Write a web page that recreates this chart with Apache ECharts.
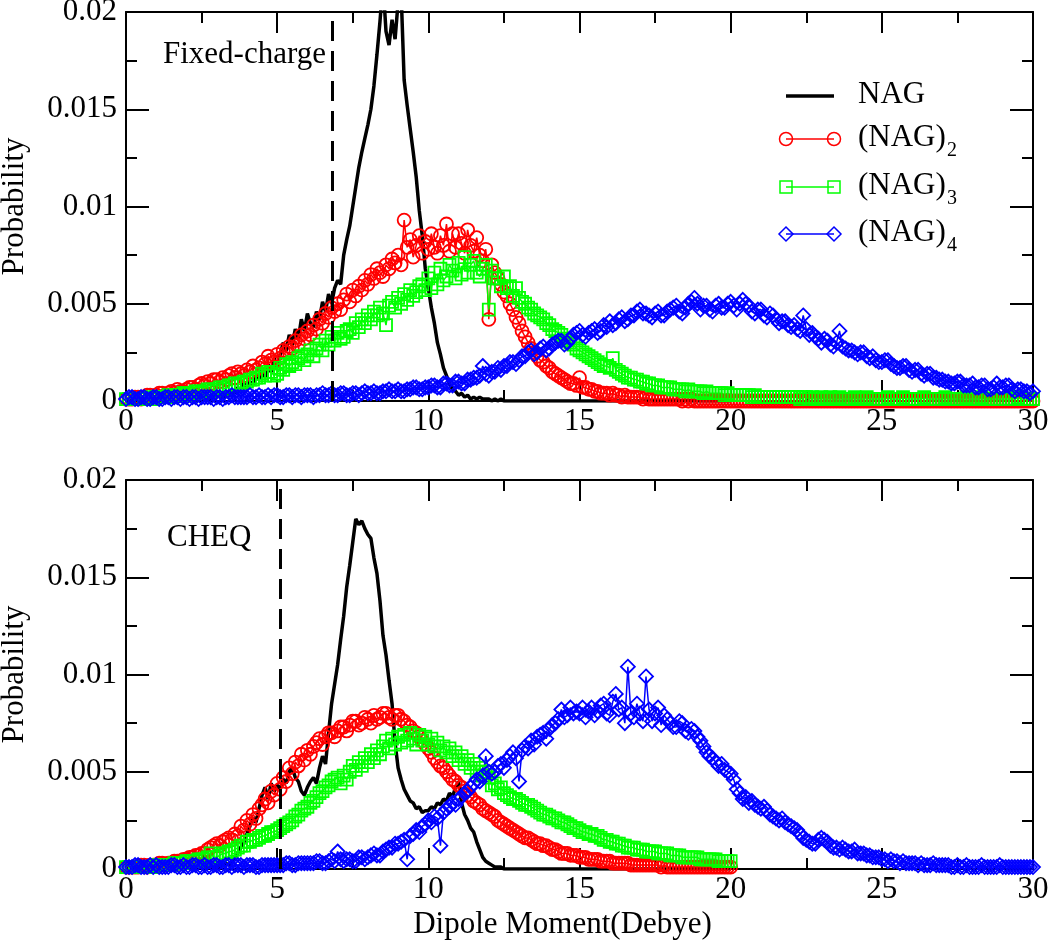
<!DOCTYPE html>
<html>
<head>
<meta charset="utf-8">
<script src="https://cdn.jsdelivr.net/npm/echarts@6/dist/echarts.min.js"></script>
<style>html,body{margin:0;padding:0;background:#fff}#c{width:1050px;height:947px}</style>
</head>
<body>
<div id="c"></div>
<script>
// ---- data ----
const xTicks = [0, 5, 10, 15, 20, 25, 30];
const yTicks = [0, 0.005, 0.01, 0.015, 0.02];
const xStep = 0.1;   // x spacing of every curve (Debye)
const dashedX = [6.83, 5.1];
const panelLabels = ['Fixed-charge', 'CHEQ'];
const seriesNames = ['NAG', '(NAG)2', '(NAG)3', '(NAG)4'];

// ===== Fixed-charge panel =====
const nagTop = [
0,0,0,0,0,0,0,0,0,0, 0,0,0,0,0,0,0,0,0,0,
0.0001,0,0.0001,0.0001,0.0005,0.0001,0.0001,0.0002,0.0001,0.0002,
0.0002,0.0003,0.0002,0.0004,0.0003,0.0005,0.0004,0.0007,0.0005,0.0009,
0.0006,0.0010,0.0008,0.0013,0.0011,0.0016,0.0012,0.0019,0.0015,0.0022,
0.0017,0.0024,0.0030,0.0026,0.0034,0.0029,0.0037,0.0032,0.0042,0.0036,
0.0045,0.0040,0.0038,0.0046,0.0042,0.0051,0.0046,0.0055,0.0050,0.0058,
0.0062,0.0060,0.0075,0.0083,0.0090,0.0100,0.0110,0.0120,0.0128,0.0135,
0.0142,0.0150,0.0162,0.0178,0.0195,0.0215,0.0190,0.0183,0.0196,0.0186,
0.0205,0.0210,0.0165,0.0152,0.0140,0.0128,0.0115,0.0098,0.0085,0.0068,
0.0058,0.0048,0.0040,0.0030,0.0024,0.0017,0.0013,0.0009,0.0006,0.0005,
0.0003,0.0004,0.0002,0.0003,0.0001,0.0002,0.0001,0.0002,0.0001,0.0001,
0.0001,0,0.0001,0,0.0001,0,0,0,0,0,
0,0,0,0,0,0,0,0,0,0, 0,0,0,0,0,0,0,0,0,0, 0,0,0,0,0,0,0,0,0,0,
0,0,0,0,0,0,0,0,0,0, 0,0,0,0,0,0,0,0,0,0, 0,0,0,0,0,0,0,0,0,0,
0,0,0,0,0,0,0,0,0,0,
0];
const nag2Top = [
0.0001,0.0001,0.0001,0.0002,0.0002,0.0001,0.0002,0.0003,0.0003,0.0002,
0.0003,0.0004,0.0004,0.0003,0.0004,0.0005,0.0004,0.0006,0.0005,0.0005,
0.0006,0.0007,0.0007,0.0006,0.0008,0.0009,0.0008,0.0010,0.0009,0.0011,
0.0011,0.0010,0.0012,0.0011,0.0013,0.0014,0.0012,0.0015,0.0014,0.0013,
0.0016,0.0015,0.0018,0.0016,0.0017,0.0020,0.0019,0.0023,0.0021,0.0020,
0.0024,0.0022,0.0026,0.0025,0.0028,0.0027,0.0031,0.0029,0.0034,0.0032,
0.0036,0.0034,0.0039,0.0037,0.0042,0.0040,0.0045,0.0043,0.0048,0.0046,
0.0050,0.0047,0.0052,0.0055,0.0051,0.0057,0.0054,0.0059,0.0057,0.0062,
0.0060,0.0065,0.0063,0.0068,0.0066,0.0064,0.0070,0.0068,0.0073,0.0071,
0.0075,0.0070,0.0093,0.0079,0.0083,0.0074,0.0080,0.0085,0.0076,0.0082,
0.0078,0.0086,0.0079,0.0076,0.0085,0.0080,0.0091,0.0077,0.0086,0.0079,
0.0086,0.0081,0.0076,0.0088,0.0080,0.0077,0.0084,0.0075,0.0072,0.0078,
0.0042,0.0070,0.0066,0.0063,0.0060,0.0056,0.0054,0.0050,0.0047,0.0043,
0.0040,0.0036,0.0033,0.0030,0.0027,0.0025,0.0023,0.0021,0.0020,0.0018,
0.0017,0.0015,0.0014,0.0013,0.0012,0.0011,0.0010,0.0009,0.0009,0.0008,
0.0012,0.0007,0.0007,0.0006,0.0006,0.0005,0.0005,0.0004,0.0004,0.0004,
0.0003,0.0004,0.0003,0.0003,0.0002,0.0003,0.0002,0.0002,0.0002,0.0002,
0.0002,0.0001,0.0002,0.0001,0.0001,0.0001,0.0001,0.0001,0.0001,0.0001,
0.0001,0.0001,0.0001,0.0001,0,0.0001,0,0.0001,0,0,
0,0,0,0,0,0,0,0,0,0, 0,0,0,0,0,0,0,0,0,0, 0,0,0,0,0,0,0,0,0,0,
0,0,0,0,0,0,0,0,0,0, 0,0,0,0,0,0,0,0,0,0, 0,0,0,0,0,0,0,0,0,0,
0,0,0,0,0,0,0,0,0,0, 0,0,0,0,0,0,0,0,0,0, 0,0,0,0,0,0,0,0,0,0,
0,0,0,0,0,0,0,0,0,0, 0,0,0,0,0,0,0,0,0,0,
0];
const nag3Top = [
0.0001,0.0001,0.0001,0.0001,0.0001,0.0001,0.0001,0.0001,0.0002,0.0001,
0.0002,0.0002,0.0002,0.0002,0.0003,0.0002,0.0003,0.0003,0.0003,0.0004,
0.0004,0.0003,0.0004,0.0005,0.0005,0.0004,0.0005,0.0006,0.0006,0.0005,
0.0006,0.0007,0.0007,0.0006,0.0008,0.0008,0.0009,0.0008,0.0009,0.0010,
0.0010,0.0011,0.0011,0.0012,0.0012,0.0014,0.0013,0.0015,0.0015,0.0013,
0.0014,0.0017,0.0016,0.0019,0.0018,0.0020,0.0019,0.0022,0.0023,0.0021,
0.0024,0.0026,0.0023,0.0027,0.0029,0.0026,0.0031,0.0029,0.0033,0.0031,
0.0035,0.0032,0.0033,0.0036,0.0037,0.0035,0.0040,0.0038,0.0042,0.0040,
0.0044,0.0042,0.0046,0.0044,0.0048,0.0045,0.0039,0.0049,0.0051,0.0048,
0.0053,0.0050,0.0055,0.0052,0.0057,0.0054,0.0056,0.0059,0.0060,0.0057,
0.0063,0.0058,0.0066,0.0060,0.0068,0.0062,0.0064,0.0070,0.0067,0.0063,
0.0071,0.0065,0.0074,0.0066,0.0070,0.0072,0.0066,0.0064,0.0068,0.0070,
0.0047,0.0067,0.0063,0.0063,0.0059,0.0064,0.0058,0.0059,0.0054,0.0058,
0.0053,0.0051,0.0050,0.0048,0.0047,0.0045,0.0044,0.0043,0.0042,0.0040,
0.0039,0.0037,0.0036,0.0035,0.0034,0.0032,0.0031,0.0030,0.0029,0.0027,
0.0026,0.0025,0.0024,0.0023,0.0022,0.0021,0.0020,0.0019,0.0018,0.0018,
0.0017,0.0022,0.0016,0.0015,0.0014,0.0013,0.0012,0.0012,0.0011,0.0011,
0.0010,0.0010,0.0009,0.0009,0.0008,0.0008,0.0008,0.0007,0.0007,0.0007,
0.0007,0.0006,0.0006,0.0006,0.0006,0.0005,0.0006,0.0005,0.0005,0.0005,
0.0005,0.0004,0.0005,0.0004,0.0004,0.0004,0.0004,0.0004,0.0003,0.0004,
0.0003,0.0003,0.0003,0.0003,0.0003,0.0003,0.0003,0.0002,0.0003,0.0002,
0.0002,0.0002,0.0002,0.0002,0.0002,0.0002,0.0002,0.0002,0.0002,0.0002,
0.0002,0.0002,0.0002,0.0001,0.0002,0.0002,0.0001,0.0002,0.0001,0.0001,
0.0002,0.0001,0.0001,0.0002,0.0001,0.0001,0.0002,0.0001,0.0001,0.0001,
0.0001,0.0002,0.0001,0.0001,0.0001,0.0002,0.0001,0.0001,0.0001,0.0001,
0.0001,0.0001,0.0002,0.0001,0.0001,0.0001,0.0001,0.0002,0.0001,0.0001,
0.0001,0.0001,0.0001,0.0001,0.0002,0.0001,0.0001,0.0001,0.0001,0.0001,
0.0001,0.0002,0.0001,0.0001,0.0001,0.0001,0.0001,0.0001,0.0002,0.0001,
0.0001,0.0001,0.0001,0.0002,0.0001,0.0001,0.0001,0.0001,0.0001,0.0001,
0.0001,0.0001,0.0001,0.0001,0.0001,0.0002,0.0001,0.0001,0.0001,0.0001,
0.0001];
const nag4Top = [
0.0001,0.0002,0.0002,0.0001,0.0001,0.0002,0.0002,0.0001,0.0001,0.0002,
0.0002,0.0001,0.0001,0.0002,0.0002,0.0001,0.0002,0.0002,0.0001,0.0002,
0.0002,0.0001,0.0002,0.0002,0.0001,0.0002,0.0002,0.0002,0.0002,0.0001,
0.0002,0.0002,0.0001,0.0002,0.0002,0.0003,0.0002,0.0002,0.0002,0.0002,
0.0002,0.0003,0.0002,0.0002,0.0003,0.0002,0.0002,0.0003,0.0002,0.0003,
0.0003,0.0002,0.0002,0.0003,0.0003,0.0002,0.0003,0.0003,0.0002,0.0003,
0.0003,0.0003,0.0002,0.0003,0.0003,0.0004,0.0003,0.0003,0.0004,0.0003,
0.0003,0.0004,0.0004,0.0003,0.0003,0.0004,0.0004,0.0003,0.0004,0.0005,
0.0004,0.0004,0.0005,0.0004,0.0004,0.0005,0.0005,0.0006,0.0005,0.0005,
0.0006,0.0005,0.0005,0.0006,0.0006,0.0007,0.0007,0.0006,0.0006,0.0007,
0.0007,0.0008,0.0008,0.0007,0.0007,0.0009,0.0009,0.0008,0.0008,0.0010,
0.0010,0.0009,0.0009,0.0011,0.0011,0.0012,0.0012,0.0013,0.0018,0.0014,
0.0013,0.0015,0.0015,0.0017,0.0016,0.0018,0.0018,0.0020,0.0020,0.0019,
0.0021,0.0023,0.0023,0.0025,0.0026,0.0024,0.0025,0.0027,0.0028,0.0026,
0.0027,0.0029,0.0030,0.0031,0.0031,0.0029,0.0030,0.0032,0.0034,0.0035,
0.0036,0.0034,0.0033,0.0035,0.0036,0.0037,0.0035,0.0036,0.0039,0.0038,
0.0041,0.0039,0.0040,0.0042,0.0043,0.0041,0.0042,0.0044,0.0044,0.0046,
0.0047,0.0045,0.0045,0.0044,0.0043,0.0045,0.0046,0.0044,0.0044,0.0046,
0.0047,0.0048,0.0049,0.0046,0.0045,0.0048,0.0050,0.0051,0.0053,0.0050,
0.0047,0.0049,0.0049,0.0047,0.0046,0.0049,0.0050,0.0048,0.0048,0.0050,
0.0051,0.0049,0.0047,0.0050,0.0052,0.0050,0.0049,0.0046,0.0045,0.0047,
0.0047,0.0044,0.0043,0.0045,0.0044,0.0042,0.0040,0.0041,0.0041,0.0039,
0.0038,0.0039,0.0037,0.0036,0.0044,0.0037,0.0034,0.0035,0.0033,0.0032,
0.0030,0.0032,0.0031,0.0029,0.0028,0.0030,0.0036,0.0028,0.0027,0.0026,
0.0026,0.0025,0.0024,0.0025,0.0025,0.0023,0.0022,0.0023,0.0021,0.0020,
0.0020,0.0021,0.0021,0.0019,0.0018,0.0017,0.0017,0.0018,0.0018,0.0016,
0.0015,0.0016,0.0016,0.0014,0.0013,0.0014,0.0014,0.0012,0.0012,0.0011,
0.0011,0.0010,0.0010,0.0009,0.0009,0.0010,0.0010,0.0008,0.0008,0.0008,
0.0009,0.0007,0.0007,0.0008,0.0008,0.0006,0.0006,0.0007,0.0009,0.0007,
0.0007,0.0008,0.0008,0.0006,0.0005,0.0006,0.0006,0.0005,0.0005,0.0004,
0.0005];

// ===== CHEQ panel =====
const nagBot = [
0,0,0,0,0,0,0,0,0,0, 0,0,0,0,0,0,0,0,0,0,
0.0001,0.0001,0,0.0001,0.0001,0.0002,0.0007,0.0001,0.0002,0.0001,
0.0002,0.0001,0.0002,0.0003,0.0002,0.0004,0.0006,0.0008,0.0011,0.0014,
0.0018,0.0022,0.0026,0.0024,0.0031,0.0038,0.0042,0.0036,0.0044,0.0040,
0.0043,0.0041,0.0046,0.0044,0.0050,0.0052,0.0047,0.0045,0.0040,0.0038,
0.0042,0.0045,0.0047,0.0044,0.0052,0.0058,0.0054,0.0070,0.0085,0.0095,
0.0105,0.0118,0.0130,0.0145,0.0156,0.0168,0.0180,0.0177,0.0179,0.0175,
0.0172,0.0170,0.0160,0.0152,0.0138,0.0120,0.0110,0.0097,0.0085,0.0065,
0.0052,0.0046,0.0041,0.0038,0.0035,0.0034,0.0031,0.0032,0.0029,0.0030,
0.0030,0.0032,0.0031,0.0034,0.0033,0.0036,0.0035,0.0039,0.0037,0.0042,
0.0045,0.0034,0.0028,0.0025,0.0021,0.0019,0.0014,0.0010,0.0006,0.0004,
0.0003,0.0002,0.0001,0.0001,0.0001,0,0,0,0,0,
0,0,0,0,0,0,0,0,0,0, 0,0,0,0,0,0,0,0,0,0, 0,0,0,0,0,0,0,0,0,0,
0,0,0,0,0,0,0,0,0,0, 0,0,0,0,0,0,0,0,0,0, 0,0,0,0,0,0,0,0,0,0,
0,0,0,0,0,0,0,0,0,0,
0];
const nag2Bot = [
0.0001,0.0001,0.0001,0.0001,0.0001,0.0002,0.0002,0.0001,0.0002,0.0002,
0.0002,0.0003,0.0003,0.0002,0.0003,0.0003,0.0004,0.0004,0.0004,0.0005,
0.0005,0.0006,0.0006,0.0007,0.0007,0.0008,0.0008,0.0010,0.0011,0.0012,
0.0013,0.0012,0.0014,0.0015,0.0016,0.0015,0.0018,0.0017,0.0022,0.0020,
0.0025,0.0023,0.0028,0.0026,0.0031,0.0033,0.0036,0.0034,0.0040,0.0038,
0.0044,0.0041,0.0047,0.0045,0.0052,0.0049,0.0055,0.0053,0.0059,0.0056,
0.0061,0.0059,0.0063,0.0065,0.0067,0.0064,0.0068,0.0070,0.0070,0.0068,
0.0071,0.0073,0.0073,0.0071,0.0074,0.0076,0.0076,0.0074,0.0075,0.0078,
0.0077,0.0075,0.0079,0.0077,0.0078,0.0080,0.0080,0.0078,0.0077,0.0079,
0.0079,0.0077,0.0076,0.0074,0.0073,0.0071,0.0070,0.0068,0.0066,0.0064,
0.0062,0.0060,0.0057,0.0055,0.0053,0.0052,0.0050,0.0048,0.0046,0.0045,
0.0043,0.0042,0.0040,0.0038,0.0037,0.0035,0.0034,0.0033,0.0031,0.0030,
0.0029,0.0028,0.0027,0.0025,0.0024,0.0023,0.0022,0.0021,0.0020,0.0019,
0.0018,0.0017,0.0016,0.0016,0.0015,0.0014,0.0013,0.0013,0.0012,0.0012,
0.0011,0.0010,0.0010,0.0009,0.0008,0.0008,0.0008,0.0007,0.0007,0.0007,
0.0006,0.0006,0.0006,0.0005,0.0005,0.0005,0.0005,0.0004,0.0004,0.0004,
0.0004,0.0003,0.0003,0.0003,0.0003,0.0003,0.0003,0.0002,0.0002,0.0002,
0.0002,0.0002,0.0002,0.0002,0.0002,0.0002,0.0002,0.0001,0.0002,0.0001,
0.0001,0.0001,0.0001,0.0001,0.0001,0.0001,0.0001,0.0001,0.0001,0.0001,
0.0001,0.0001,0.0001,0.0001,0.0001,0.0001,0.0001,0.0001,0.0001,0.0001,
0.0001];
const nag3Bot = [
0.0001,0.0001,0.0001,0.0001,0.0001,0.0001,0.0001,0.0001,0.0001,0.0001,
0.0002,0.0002,0.0002,0.0002,0.0002,0.0002,0.0003,0.0003,0.0003,0.0003,
0.0004,0.0004,0.0004,0.0004,0.0005,0.0005,0.0005,0.0006,0.0008,0.0006,
0.0006,0.0007,0.0008,0.0008,0.0009,0.0009,0.0010,0.0011,0.0012,0.0012,
0.0014,0.0014,0.0015,0.0015,0.0016,0.0017,0.0017,0.0018,0.0019,0.0019,
0.0020,0.0021,0.0022,0.0023,0.0024,0.0025,0.0027,0.0028,0.0030,0.0031,
0.0032,0.0034,0.0035,0.0037,0.0039,0.0040,0.0042,0.0043,0.0045,0.0046,
0.0047,0.0044,0.0048,0.0046,0.0050,0.0053,0.0051,0.0055,0.0053,0.0057,
0.0055,0.0059,0.0057,0.0061,0.0059,0.0063,0.0066,0.0062,0.0067,0.0064,
0.0068,0.0065,0.0069,0.0066,0.0070,0.0067,0.0064,0.0069,0.0066,0.0068,
0.0064,0.0067,0.0063,0.0065,0.0061,0.0063,0.0060,0.0062,0.0058,0.0060,
0.0056,0.0058,0.0054,0.0056,0.0052,0.0054,0.0050,0.0052,0.0048,0.0050,
0.0047,0.0043,0.0044,0.0041,0.0042,0.0039,0.0038,0.0037,0.0036,0.0036,
0.0035,0.0034,0.0033,0.0033,0.0032,0.0031,0.0030,0.0029,0.0028,0.0028,
0.0027,0.0026,0.0026,0.0025,0.0024,0.0024,0.0023,0.0022,0.0021,0.0021,
0.0020,0.0019,0.0019,0.0018,0.0018,0.0017,0.0017,0.0016,0.0015,0.0015,
0.0014,0.0014,0.0013,0.0013,0.0012,0.0012,0.0011,0.0011,0.0011,0.0010,
0.0010,0.0010,0.0009,0.0009,0.0009,0.0009,0.0008,0.0008,0.0008,0.0008,
0.0007,0.0007,0.0007,0.0007,0.0006,0.0006,0.0006,0.0006,0.0006,0.0006,
0.0005,0.0005,0.0005,0.0005,0.0005,0.0005,0.0004,0.0004,0.0004,0.0004,
0.0004];
const nag4Bot = [
0.0001,0.0001,0.0001,0.0002,0.0002,0.0001,0.0001,0.0001,0.0002,0.0001,
0.0002,0.0001,0.0001,0.0001,0.0001,0.0002,0.0002,0.0001,0.0001,0.0002,
0.0001,0.0001,0.0002,0.0002,0.0001,0.0001,0.0002,0.0001,0.0001,0.0002,
0.0002,0.0001,0.0001,0.0002,0.0002,0.0001,0.0002,0.0002,0.0002,0.0001,
0.0002,0.0002,0.0002,0.0001,0.0001,0.0002,0.0002,0.0002,0.0002,0.0002,
0.0002,0.0002,0.0002,0.0003,0.0003,0.0002,0.0002,0.0003,0.0003,0.0003,
0.0003,0.0003,0.0003,0.0004,0.0004,0.0003,0.0003,0.0004,0.0005,0.0004,
0.0009,0.0005,0.0004,0.0005,0.0005,0.0004,0.0004,0.0006,0.0006,0.0005,
0.0006,0.0007,0.0008,0.0007,0.0007,0.0009,0.0010,0.0011,0.0011,0.0013,
0.0013,0.0014,0.0015,0.0005,0.0017,0.0018,0.0020,0.0019,0.0022,0.0023,
0.0025,0.0024,0.0027,0.0026,0.0012,0.0029,0.0031,0.0032,0.0034,0.0033,
0.0036,0.0037,0.0039,0.0040,0.0042,0.0044,0.0046,0.0045,0.0048,0.0058,
0.0050,0.0049,0.0050,0.0053,0.0054,0.0052,0.0056,0.0058,0.0060,0.0057,
0.0045,0.0061,0.0063,0.0062,0.0066,0.0064,0.0068,0.0069,0.0070,0.0067,
0.0072,0.0074,0.0075,0.0077,0.0082,0.0078,0.0079,0.0083,0.0080,0.0081,
0.0080,0.0083,0.0078,0.0081,0.0083,0.0079,0.0081,0.0084,0.0085,0.0080,
0.0079,0.0086,0.0090,0.0082,0.0083,0.0075,0.0104,0.0080,0.0078,0.0085,
0.0080,0.0076,0.0099,0.0082,0.0076,0.0080,0.0083,0.0074,0.0079,0.0077,
0.0075,0.0073,0.0073,0.0076,0.0075,0.0071,0.0070,0.0072,0.0071,0.0068,
0.0066,0.0063,0.0060,0.0058,0.0057,0.0055,0.0053,0.0054,0.0051,0.0050,
0.0049,0.0046,0.0041,0.0039,0.0036,0.0037,0.0034,0.0035,0.0033,0.0032,
0.0031,0.0032,0.0030,0.0028,0.0027,0.0026,0.0025,0.0026,0.0024,0.0023,
0.0022,0.0021,0.0020,0.0018,0.0016,0.0015,0.0014,0.0013,0.0013,0.0015,
0.0016,0.0015,0.0014,0.0012,0.0011,0.0011,0.0010,0.0011,0.0010,0.0009,
0.0009,0.0010,0.0008,0.0008,0.0008,0.0007,0.0007,0.0006,0.0006,0.0006,
0.0005,0.0005,0.0004,0.0005,0.0004,0.0004,0.0003,0.0004,0.0003,0.0003,
0.0003,0.0003,0.0002,0.0003,0.0002,0.0002,0.0002,0.0003,0.0002,0.0002,
0.0002,0.0002,0.0002,0.0001,0.0001,0.0002,0.0001,0.0001,0.0002,0.0001,
0.0001,0.0001,0.0001,0.0002,0.0001,0.0001,0.0001,0.0001,0.0001,0.0002,
0.0001,0.0001,0.0001,0.0001,0.0001,0.0001,0.0001,0.0001,0.0001,0.0001,
0.0001];

// ---- build ----
function pts(vals) {
  return vals.map((v, i) => [Math.round(i * xStep * 100) / 100, v]);
}
const FONT = 'Liberation Serif';
const RED = '#ff0000', GREEN = '#00ff00', BLUE = '#0000ff';

function xAx(grid, pos, withLabel, name) {
  return {
    type: 'value', gridIndex: grid, position: pos, min: xTicks[0], max: xTicks[xTicks.length - 1], interval: 5,
    axisLine: { show: true, onZero: false, lineStyle: { color: '#000', width: 2 } },
    axisTick: { show: true, inside: true, length: 21, lineStyle: { color: '#000', width: 2 } },
    minorTick: { show: true, splitNumber: 2, length: 11, lineStyle: { color: '#000', width: 2 } },
    splitLine: { show: false },
    axisLabel: { show: withLabel, color: '#000', fontFamily: FONT, fontSize: 31, margin: 5 },
    name: name || '', nameLocation: 'middle', nameGap: 40,
    nameTextStyle: { color: '#000', fontFamily: FONT, fontSize: 31, padding: [0, 34, 0, 0] }
  };
}
function yAx(grid, pos, withLabel) {
  return {
    type: 'value', gridIndex: grid, position: pos, min: yTicks[0], max: yTicks[yTicks.length - 1], interval: 0.005,
    axisLine: { show: true, onZero: false, lineStyle: { color: '#000', width: 2 } },
    axisTick: { show: true, inside: true, length: 23, lineStyle: { color: '#000', width: 2 } },
    minorTick: { show: true, splitNumber: 2, length: 11, lineStyle: { color: '#000', width: 2 } },
    splitLine: { show: false },
    axisLabel: { show: withLabel, color: '#000', fontFamily: FONT, fontSize: 31, margin: 9 },
    name: withLabel ? 'Probability' : '', nameLocation: 'middle', nameGap: 96, nameRotate: 90,
    nameTextStyle: { color: '#000', fontFamily: FONT, fontSize: 31 }
  };
}
function mk(name, xi, yi, vals, color, symbol, size, extra) {
  return Object.assign({
    name: name, type: 'line', xAxisIndex: xi, yAxisIndex: yi, data: pts(vals),
    symbol: symbol, symbolSize: size, showSymbol: symbol !== 'none', clip: true,
    lineStyle: { color: color, width: 1.5 },
    itemStyle: { color: 'rgba(0,0,0,0)', borderColor: color, borderWidth: 1.8 },
    animation: false, silent: true
  }, extra || {});
}
function dashed(x) {
  return {
    silent: true, symbol: 'none', label: { show: false },
    lineStyle: { color: '#000', width: 3, type: [20, 10] },
    data: [{ xAxis: x }]
  };
}
const series = [];
[[0, nag2Top, nag3Top, nag4Top, nagTop], [1, nag2Bot, nag3Bot, nag4Bot, nagBot]].forEach(function (p) {
  const g = p[0], xi = g * 2, yi = g * 2;
  series.push(mk(seriesNames[1], xi, yi, p[1], RED, 'circle', 13));
  series.push(mk(seriesNames[2], xi, yi, p[2], GREEN, 'rect', 12));
  series.push(mk(seriesNames[3], xi, yi, p[3], BLUE, 'diamond', 14));
  series.push(mk(seriesNames[0], xi, yi, p[4], '#000', 'none', 0, {
    lineStyle: { color: '#000', width: 3.5 }, markLine: dashed(dashedX[g])
  }));
});

// legend (drawn as graphics, top panel)
function legendMarker(kind, cx, cy, color) {
  if (kind === 'circle') return { type: 'circle', shape: { cx: cx, cy: cy, r: 6.5 }, style: { fill: 'none', stroke: color, lineWidth: 1.5 } };
  if (kind === 'rect') return { type: 'rect', shape: { x: cx - 6, y: cy - 6, width: 12, height: 12 }, style: { fill: 'none', stroke: color, lineWidth: 1.5 } };
  return { type: 'polygon', shape: { points: [[cx, cy - 7], [cx + 7, cy], [cx, cy + 7], [cx - 7, cy]] }, style: { fill: 'none', stroke: color, lineWidth: 1.5 } };
}
const graphics = [];
const lx1 = 786, lx2 = 834, tx = 858;
const rows = [
  { y: 96, color: '#000', kind: null, sub: null },
  { y: 139, color: RED, kind: 'circle', sub: '2' },
  { y: 187, color: GREEN, kind: 'rect', sub: '3' },
  { y: 234, color: BLUE, kind: 'diamond', sub: '4' }
];
rows.forEach(function (r) {
  graphics.push({ type: 'line', shape: { x1: lx1, y1: r.y, x2: lx2, y2: r.y }, style: { stroke: r.color, lineWidth: r.kind ? 1.5 : 3.5 }, silent: true });
  if (r.kind) {
    graphics.push(legendMarker(r.kind, lx1, r.y, r.color));
    graphics.push(legendMarker(r.kind, lx2, r.y, r.color));
  }
  const main = r.sub ? '(NAG)' : 'NAG';
  graphics.push({ type: 'text', x: tx, y: r.y - 1, style: { text: main, font: '31px "' + FONT + '"', fill: '#000', verticalAlign: 'middle', align: 'left' } });
  if (r.sub) {
    graphics.push({ type: 'text', x: tx + 89, y: r.y + 12, style: { text: r.sub, font: '20px "' + FONT + '"', fill: '#000', verticalAlign: 'middle', align: 'left' } });
  }
});
graphics.push({ type: 'text', x: 163, y: 55, style: { text: panelLabels[0], font: '31px "' + FONT + '"', fill: '#000', verticalAlign: 'middle' } });
graphics.push({ type: 'text', x: 167, y: 538, style: { text: panelLabels[1], font: '31px "' + FONT + '"', fill: '#000', verticalAlign: 'middle' } });

const chart = echarts.init(document.getElementById('c'), null, { renderer: 'canvas' });
chart.setOption({
  backgroundColor: '#fff',
  animation: false,
  grid: [
    { left: 126, top: 12, width: 907, height: 389, containLabel: false, outerBoundsMode: 'none' },
    { left: 126, top: 480, width: 907, height: 389, containLabel: false, outerBoundsMode: 'none' }
  ],
  xAxis: [xAx(0, 'bottom', true), xAx(0, 'top', false), xAx(1, 'bottom', true, 'Dipole Moment(Debye)'), xAx(1, 'top', false)],
  yAxis: [yAx(0, 'left', true), yAx(0, 'right', false), yAx(1, 'left', true), yAx(1, 'right', false)],
  series: series,
  graphic: graphics
});
</script>
</body>
</html>
